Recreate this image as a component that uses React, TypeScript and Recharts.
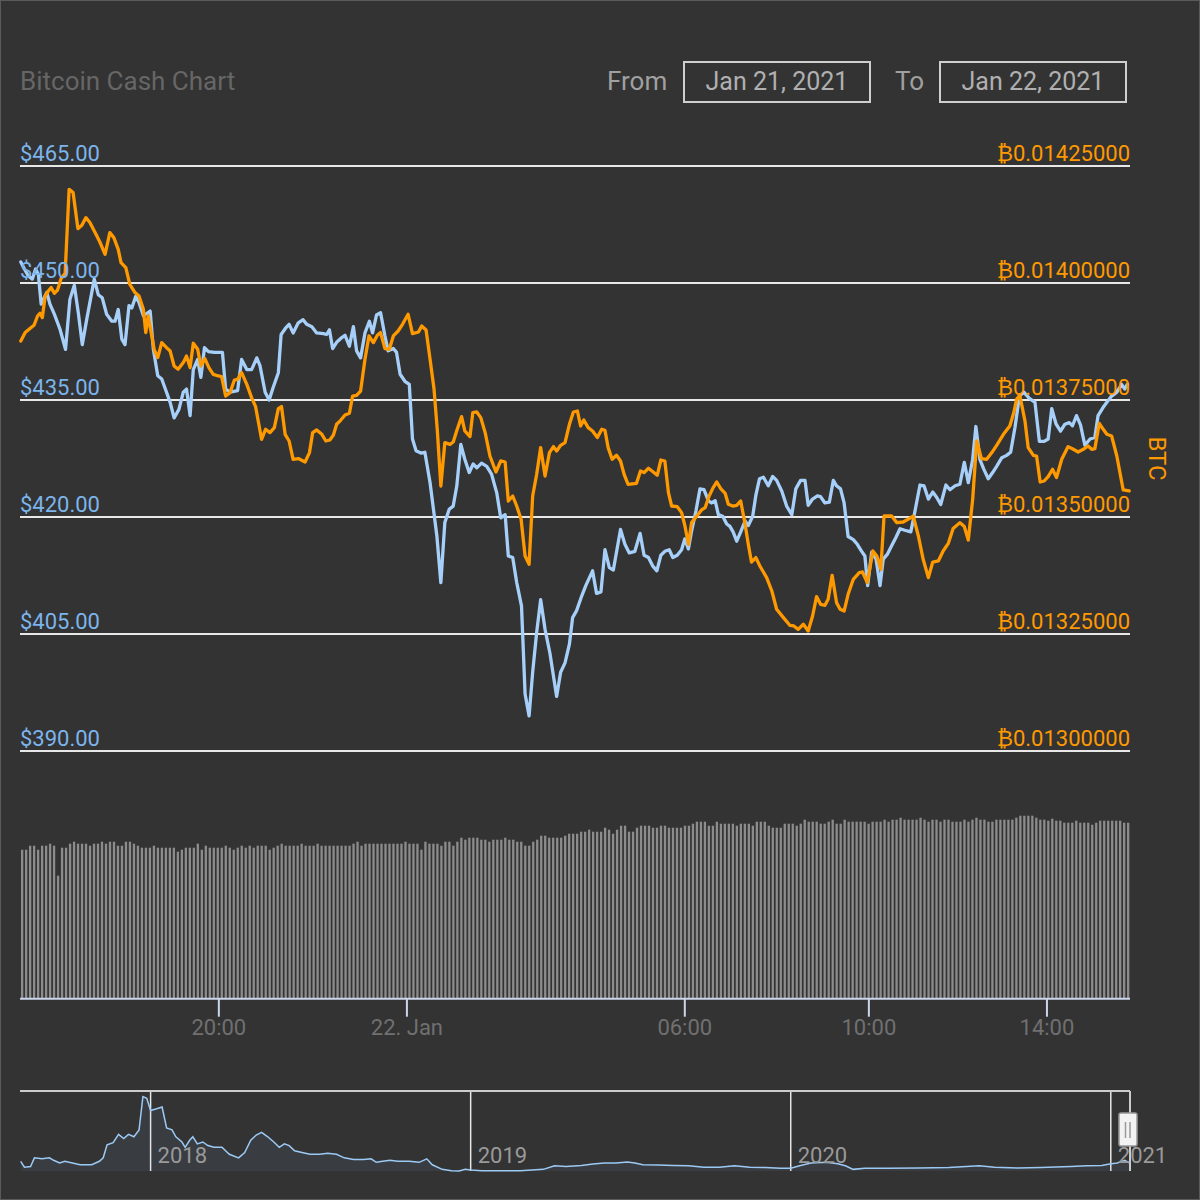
import React from "react";
import {
  ComposedChart, Line, XAxis, YAxis, CartesianGrid, BarChart, Bar,
  AreaChart, Area, ReferenceLine,
} from "recharts";

// price in USD, [5-min candle index, price]
const usdSeries: [number, number][] = [
  [-0.3, 452.7], [0.6, 451.8], [1.6, 450.9], [2.6, 450.5], [3.4, 451.8], [4.1, 451.1], [4.8, 447.3], [6.2, 448.8],
  [7.0, 447.3], [8.1, 446.0], [9.5, 444.1], [10.9, 441.5], [12.0, 447.9], [13.1, 449.7], [14.1, 446.2], [15.1, 442.1],
  [16.2, 445.3], [18.1, 450.5], [19.1, 448.5], [20.1, 448.1], [21.2, 446.0], [22.5, 445.1], [23.3, 445.1], [24.1, 446.6],
  [25.0, 442.8], [25.8, 442.1], [26.8, 447.1], [27.5, 446.8], [28.5, 448.3], [29.3, 447.5], [30.4, 445.8], [32.1, 446.4],
  [32.9, 441.5], [34.0, 438.1], [35.0, 437.7], [36.2, 436.0], [37.1, 434.7], [38.1, 432.7], [39.3, 433.8], [40.4, 436.0],
  [41.2, 436.4], [42.1, 433.0], [42.9, 438.9], [44.0, 440.2], [44.8, 437.9], [45.7, 441.7], [46.7, 441.2], [48.2, 441.1],
  [50.2, 441.1], [51.0, 436.4], [52.1, 436.0], [54.0, 436.2], [55.0, 440.2], [56.3, 438.9], [57.5, 438.9], [58.8, 440.4],
  [59.6, 439.4], [60.9, 436.0], [61.9, 435.0], [62.9, 436.6], [64.2, 438.5], [64.9, 443.4], [66.0, 444.2], [66.9, 444.7],
  [67.9, 443.6], [69.2, 444.9], [70.4, 445.3], [71.3, 444.7], [72.6, 444.4], [73.8, 443.6], [75.5, 443.5], [76.3, 443.4],
  [77.0, 444.0], [77.8, 441.6], [78.8, 442.4], [80.1, 443.0], [80.9, 443.3], [82.0, 441.9], [83.0, 444.4], [83.8, 441.3],
  [84.8, 440.4], [85.9, 443.6], [87.0, 445.1], [87.8, 443.6], [88.8, 445.9], [89.8, 446.2], [90.9, 443.2], [91.7, 441.3],
  [93.0, 441.6], [93.8, 441.1], [94.7, 438.3], [95.9, 437.4], [97.0, 437.0], [97.8, 430.0], [98.7, 428.5], [99.9, 428.2],
  [100.9, 428.3], [102.2, 424.4], [103.9, 417.6], [104.9, 411.6], [105.9, 419.3], [107.0, 421.0], [108.0, 421.4], [108.9, 424.0],
  [109.9, 429.3], [110.9, 427.4], [112.0, 425.7], [113.0, 426.8], [113.9, 426.3], [115.1, 426.9], [116.4, 426.5], [117.6, 425.5],
  [118.9, 423.1], [119.9, 419.9], [121.0, 420.3], [121.8, 415.0], [122.9, 414.8], [123.9, 411.6], [125.1, 408.6], [126.0, 397.3],
  [127.0, 394.5], [127.9, 400.1], [128.9, 405.2], [129.9, 409.4], [131.0, 405.6], [132.2, 402.6], [133.9, 397.0], [134.9, 400.1],
  [136.0, 401.3], [137.1, 403.7], [137.9, 407.1], [138.9, 408.0], [140.2, 409.9], [141.2, 411.2], [142.9, 413.1], [143.9, 410.2],
  [145.0, 410.4], [146.0, 415.8], [147.1, 413.5], [148.1, 413.2], [149.9, 418.4], [151.0, 416.5], [152.1, 415.4], [153.5, 415.6],
  [154.8, 417.9], [155.8, 415.1], [156.9, 414.8], [158.0, 413.7], [159.0, 413.1], [160.0, 415.1], [161.0, 415.6], [162.1, 415.8],
  [163.0, 414.8], [164.1, 415.1], [165.2, 415.8], [166.0, 417.2], [166.9, 415.9], [167.7, 418.2], [168.8, 420.8], [169.8, 423.6],
  [170.8, 423.5], [171.9, 422.1], [172.7, 421.8], [173.6, 422.1], [174.4, 420.3], [175.5, 420.1], [176.5, 419.1], [177.3, 418.8],
  [178.1, 418.1], [179.0, 416.9], [180.0, 418.1], [181.1, 419.5], [181.9, 418.9], [183.0, 420.1], [183.8, 422.8], [184.7, 424.9],
  [185.7, 425.1], [186.9, 424.0], [188.0, 425.2], [189.0, 424.7], [190.3, 423.3], [191.5, 421.4], [192.8, 420.3], [193.8, 423.6],
  [195.0, 424.7], [196.1, 424.7], [196.9, 421.5], [198.0, 422.3], [199.2, 422.7], [200.0, 422.6], [201.1, 421.8], [202.2, 421.9],
  [203.2, 424.7], [204.0, 424.0], [205.0, 423.6], [205.9, 421.8], [206.9, 417.5], [208.2, 417.1], [209.2, 416.5], [210.3, 415.6],
  [211.1, 415.0], [211.8, 411.2], [212.8, 415.5], [213.9, 414.6], [214.9, 411.2], [215.7, 414.6], [216.7, 415.2], [217.8, 416.3],
  [218.9, 417.4], [219.9, 418.5], [221.1, 418.3], [222.6, 418.1], [223.4, 420.1], [224.9, 424.1], [225.9, 424.0], [227.0, 422.3],
  [228.1, 423.2], [229.1, 422.5], [230.1, 421.6], [231.4, 424.1], [232.4, 423.5], [233.7, 424.0], [234.9, 424.2], [236.0, 427.0],
  [237.0, 424.4], [238.1, 427.4], [238.9, 431.6], [239.9, 427.4], [240.9, 426.1], [242.0, 424.9], [243.1, 425.7], [244.1, 426.5],
  [245.4, 427.6], [246.6, 427.9], [247.6, 428.3], [248.7, 431.5], [249.8, 435.5], [250.9, 436.0], [252.3, 435.2], [253.7, 434.7],
  [254.8, 429.7], [256.0, 429.7], [257.0, 430.0], [257.9, 433.9], [259.0, 431.9], [260.1, 431.0], [261.2, 431.9], [262.3, 432.1],
  [263.1, 431.7], [264.1, 433.0], [265.1, 431.8], [266.2, 429.2], [267.5, 430.0], [268.7, 430.2], [269.5, 433.0], [270.7, 434.0],
  [271.7, 434.7], [272.9, 435.5], [274.2, 436.0], [275.4, 437.0], [276.2, 436.4], [276.8, 437.0],
];

// price in BTC, [5-min candle index, price]
const btcSeries: [number, number][] = [
  [-0.3, 0.0138761], [0.8, 0.013894], [2.0, 0.0139026], [3.0, 0.0139096], [3.9, 0.0139295], [4.5, 0.0139353], [5.1, 0.0139261],
  [5.8, 0.0139722], [6.6, 0.0139829], [7.3, 0.0139902], [8.1, 0.013978], [8.9, 0.013985], [9.8, 0.0140094], [10.8, 0.0140207],
  [11.8, 0.0142002], [12.8, 0.0141932], [14.0, 0.0141162], [15.0, 0.0141233], [16.0, 0.0141397], [17.0, 0.0141291], [18.3, 0.0141077],
  [19.5, 0.0140876], [20.8, 0.0140613], [22.0, 0.0141077], [23.0, 0.014097], [24.1, 0.014072], [24.8, 0.0140436], [26.0, 0.0140329],
  [27.0, 0.0139972], [28.3, 0.0139795], [29.3, 0.0139722], [30.4, 0.0139438], [31.0, 0.013894], [31.6, 0.0139295], [33.1, 0.0138583],
  [34.0, 0.0138406], [35.0, 0.0138726], [36.2, 0.013862], [37.1, 0.0138547], [38.1, 0.0138226], [39.1, 0.0138156], [40.4, 0.0138299],
  [41.2, 0.013844], [42.1, 0.0138192], [42.9, 0.0138712], [44.0, 0.0138583], [44.8, 0.0138226], [45.8, 0.0138385], [46.8, 0.0138192],
  [47.9, 0.0138049], [49.2, 0.0138013], [50.0, 0.0138], [51.0, 0.0137585], [52.1, 0.0137658], [53.2, 0.0137927], [54.0, 0.0137942],
  [55.0, 0.0138085], [56.3, 0.0137835], [57.5, 0.0137551], [58.5, 0.0137359], [60.0, 0.013666], [61.0, 0.0136874], [62.1, 0.0136803],
  [63.2, 0.013691], [64.2, 0.0137316], [65.0, 0.0137359], [65.9, 0.0136767], [66.9, 0.0136624], [67.9, 0.0136233], [69.2, 0.0136248],
  [70.9, 0.0136175], [72.0, 0.0136376], [72.8, 0.0136803], [73.8, 0.0136859], [75.1, 0.0136767], [76.1, 0.0136624], [77.1, 0.0136645],
  [78.0, 0.0136752], [78.8, 0.0136981], [79.8, 0.0137066], [80.9, 0.0137179], [82.0, 0.0137216], [82.8, 0.0137585], [83.8, 0.01376],
  [84.8, 0.0137692], [85.9, 0.013837], [86.9, 0.0138868], [88.0, 0.0138726], [89.0, 0.0138882], [89.8, 0.013894], [90.9, 0.0138598],
  [92.0, 0.0138583], [93.0, 0.0138868], [94.2, 0.0138974], [95.3, 0.0139118], [96.7, 0.0139331], [97.8, 0.0138919], [99.3, 0.0138953],
  [100.1, 0.0139081], [101.2, 0.0138996], [102.2, 0.013837], [103.2, 0.0137729], [104.0, 0.0136874], [104.9, 0.0135662], [105.9, 0.013659],
  [107.2, 0.0136553], [108.0, 0.0136603], [109.0, 0.0136874], [110.1, 0.0137145], [110.9, 0.0136838], [112.2, 0.0136718], [112.9, 0.0137231],
  [113.9, 0.0137244], [114.9, 0.0137124], [116.0, 0.0136803], [117.2, 0.0136303], [118.7, 0.0135962], [119.9, 0.0136197], [121.0, 0.0136175],
  [121.8, 0.0135342], [122.9, 0.0135449], [123.9, 0.0135235], [125.0, 0.0134951], [126.0, 0.0134167], [127.0, 0.0133989], [127.9, 0.0135449],
  [128.9, 0.0135912], [129.9, 0.0136483], [131.0, 0.0135876], [132.1, 0.0136376], [133.1, 0.0136504], [133.9, 0.013641], [134.9, 0.0136532],
  [136.0, 0.013659], [137.1, 0.0136981], [138.1, 0.0137244], [139.1, 0.0137265], [139.9, 0.0136944], [140.7, 0.0137073], [141.8, 0.013691],
  [142.9, 0.0136838], [144.1, 0.0136697], [145.2, 0.0136874], [146.0, 0.0136853], [146.8, 0.0136483], [147.8, 0.0136233], [148.9, 0.0136318],
  [149.9, 0.0136197], [150.8, 0.0135912], [151.8, 0.0135699], [153.9, 0.013572], [154.9, 0.0135983], [155.8, 0.0135949], [156.9, 0.0136041],
  [158.1, 0.0135962], [159.1, 0.0135891], [160.0, 0.0136218], [161.0, 0.0136197], [161.9, 0.0135521], [162.7, 0.0135235], [164.1, 0.0135222],
  [165.2, 0.0135094], [166.0, 0.0134823], [166.9, 0.0134417], [167.7, 0.013488], [169.0, 0.0135021], [170.2, 0.013515], [171.1, 0.0135201],
  [172.1, 0.0135449], [173.1, 0.0135628], [174.0, 0.0135748], [175.0, 0.0135607], [176.1, 0.0135506], [176.9, 0.0135271], [178.0, 0.0135235],
  [179.0, 0.013525], [180.0, 0.0135342], [181.1, 0.0134844], [181.9, 0.0134417], [182.7, 0.0134038], [183.8, 0.0134132], [184.8, 0.0133953],
  [186.5, 0.0133705], [187.8, 0.0133419], [189.0, 0.0133028], [190.7, 0.013285], [192.3, 0.0132686], [193.3, 0.0132671], [194.4, 0.01326],
  [195.7, 0.0132707], [196.9, 0.0132564], [198.0, 0.0132885], [199.0, 0.0133299], [200.0, 0.0133135], [201.1, 0.0133113], [201.9, 0.0133241],
  [202.9, 0.0133754], [204.0, 0.0133171], [204.9, 0.0133028], [205.9, 0.0132991], [206.9, 0.0133348], [208.2, 0.0133669], [209.7, 0.0133812],
  [210.5, 0.0133825], [211.7, 0.0133598], [213.1, 0.0134274], [214.1, 0.0134167], [215.1, 0.0133882], [215.9, 0.0135021], [217.8, 0.0135021],
  [219.1, 0.013488], [220.7, 0.0134893], [222.2, 0.0134966], [223.2, 0.0135021], [224.5, 0.0134594], [225.7, 0.0134096], [227.0, 0.0133705],
  [228.1, 0.0134038], [229.5, 0.013406], [230.7, 0.0134274], [232.0, 0.0134438], [233.2, 0.0134752], [234.9, 0.013488], [236.0, 0.0134795],
  [237.0, 0.0134509], [238.1, 0.0135378], [239.1, 0.0136624], [240.3, 0.0136248], [241.6, 0.0136233], [242.9, 0.0136376], [244.1, 0.0136532],
  [245.8, 0.0136767], [247.4, 0.0136944], [248.4, 0.0137231], [249.1, 0.0137515], [249.9, 0.01376], [251.2, 0.0137051], [252.0, 0.0136483],
  [253.3, 0.0136318], [254.1, 0.0136303], [255.0, 0.0135748], [256.0, 0.0135769], [257.0, 0.0135863], [258.1, 0.0136019], [259.1, 0.0135842],
  [260.4, 0.0136233], [262.0, 0.0136504], [263.3, 0.0136447], [264.5, 0.0136389], [265.8, 0.0136447], [267.0, 0.0136517], [267.9, 0.0136447],
  [268.7, 0.0136461], [269.8, 0.0137002], [270.8, 0.0136874], [271.7, 0.0136767], [272.9, 0.0136731], [274.2, 0.0136303], [275.8, 0.0135577],
  [277.3, 0.0135556],
];

// volume per 5-min candle (relative)
const volumeValues: number[] = [
  149, 149, 153, 153, 149, 153, 153, 155, 153, 123, 151, 151, 155, 157, 155, 155, 155, 153, 155, 155,
  157, 155, 157, 157, 153, 153, 157, 157, 155, 153, 151, 151, 151, 153, 151, 151, 151, 151, 151, 147,
  149, 151, 151, 151, 155, 149, 153, 151, 151, 151, 151, 153, 151, 149, 151, 153, 151, 153, 151, 153,
  153, 153, 149, 151, 153, 155, 153, 153, 153, 153, 155, 153, 153, 153, 155, 153, 153, 153, 153, 153,
  153, 153, 153, 155, 157, 153, 155, 155, 155, 155, 155, 155, 155, 155, 155, 155, 157, 155, 155, 155,
  149, 157, 155, 155, 155, 153, 157, 157, 153, 157, 161, 159, 161, 161, 161, 159, 159, 157, 159, 159,
  159, 161, 159, 159, 157, 157, 153, 153, 157,
  159, 163, 163, 161, 161, 161, 161, 163, 165, 165, 165, 167, 167, 169, 167, 167, 167, 171, 169, 165,
  169, 173, 173, 167, 167, 171, 173, 173, 173, 171, 171, 173, 173, 171, 171, 171, 171, 173, 173, 175,
  177, 177, 177, 173, 173, 177, 175, 175, 175, 175, 173, 175, 175, 175, 173, 177, 177, 177, 173, 171,
  171, 171, 175, 175, 175, 173, 175, 179, 177, 177, 177, 175, 175, 177, 179, 175, 175, 179, 177, 177,
  177, 177, 177, 175, 177, 177, 177, 179, 177, 179, 179, 181, 179, 179, 179, 179, 181, 179, 177, 179,
  179, 177, 179, 179, 177, 177, 177, 179, 177, 179, 181, 179, 179, 177, 177, 179, 179, 179, 179, 179,
  181, 183, 183, 183, 183, 181, 179, 179,
  178, 180, 178, 178, 176, 176, 176, 178, 176, 176, 176, 174, 176, 178, 178, 178, 178, 178, 178, 176, 176,
];

// navigator: full history, [year, USD]
const navSeries: [number, number][] = [
  [2017.594, 519], [2017.606, 251], [2017.625, 283], [2017.637, 676], [2017.661, 630], [2017.684, 676], [2017.697, 565],
  [2017.716, 440], [2017.732, 519], [2017.756, 440], [2017.78, 362], [2017.816, 362], [2017.84, 519], [2017.852, 676],
  [2017.864, 1263], [2017.883, 1360], [2017.9, 1739], [2017.916, 1549], [2017.931, 1739], [2017.948, 1628], [2017.964, 1942],
  [2017.976, 3448], [2017.988, 3369], [2018.0, 2815], [2018.019, 2894], [2018.036, 2972], [2018.05, 2025], [2018.067, 1942],
  [2018.079, 1628], [2018.098, 1392], [2018.108, 1152], [2018.122, 1471], [2018.132, 1628], [2018.146, 1309], [2018.163, 1392],
  [2018.179, 1230], [2018.198, 1152], [2018.223, 1152], [2018.246, 838], [2018.275, 676], [2018.294, 916], [2018.313, 1471],
  [2018.33, 1706], [2018.347, 1831], [2018.366, 1628], [2018.385, 1392], [2018.402, 1152], [2018.418, 1309], [2018.433, 1230],
  [2018.45, 995], [2018.473, 916], [2018.498, 838], [2018.528, 838], [2018.553, 884], [2018.581, 838], [2018.605, 676],
  [2018.634, 597], [2018.665, 597], [2018.689, 630], [2018.705, 473], [2018.725, 519], [2018.748, 565], [2018.772, 519],
  [2018.808, 519], [2018.839, 473], [2018.863, 630], [2018.88, 362], [2018.911, 154], [2018.94, 94], [2018.964, 80],
  [2018.983, 154], [2019.0, 126], [2019.035, 94], [2019.083, 94], [2019.155, 94], [2019.227, 154], [2019.262, 316],
  [2019.298, 283], [2019.346, 330], [2019.382, 394], [2019.418, 440], [2019.454, 440], [2019.49, 487], [2019.513, 440],
  [2019.538, 362], [2019.585, 348], [2019.633, 330], [2019.681, 316], [2019.729, 251], [2019.777, 251], [2019.824, 316],
  [2019.872, 251], [2019.92, 237], [2019.968, 205], [2020.0, 205], [2020.028, 316], [2020.063, 440], [2020.111, 473],
  [2020.147, 408], [2020.171, 316], [2020.195, 154], [2020.231, 205], [2020.302, 205], [2020.398, 219], [2020.494, 237],
  [2020.589, 316], [2020.637, 251], [2020.709, 219], [2020.781, 237], [2020.876, 283], [2020.924, 316], [2020.972, 330],
  [2020.996, 394], [2021.02, 440], [2021.044, 565], [2021.058, 450],
];

const usdTicks = [390, 405, 420, 435, 450, 465];
const btcTicks = [0.013, 0.01325, 0.0135, 0.01375, 0.014, 0.01425];
const timeTicks = [49.3, 96.4, 166.0, 212.1, 256.7];
const timeLabels = ["20:00", "22. Jan", "06:00", "10:00", "14:00"];
const yearTicks = [2018, 2019, 2020, 2021];

const usdData = usdSeries.map(([idx, usd]) => ({ idx, usd }));
const btcData = btcSeries.map(([idx, btc]) => ({ idx, btc }));
const volumeData = volumeValues.map((vol, idx) => ({ idx, vol }));
const navData = navSeries.map(([year, price]) => ({ year, price }));

const PLOT_LEFT = 20;
const PLOT_RIGHT = 1130;
const BLUE = "#a6d0fa";
const ORANGE = "#ff9900";

const UsdTick = (props: any) => (
  <text x={PLOT_LEFT} y={props.y - 5} fill="#7cb5ec" fontSize={22}>
    {"$" + Number(props.payload.value).toFixed(2)}
  </text>
);

const BtcTick = (props: any) => (
  <text x={PLOT_RIGHT} y={props.y - 5} fill={ORANGE} fontSize={22} textAnchor="end">
    {"\u20BF" + Number(props.payload.value).toFixed(8)}
  </text>
);

const NavTick = (props: any) => (
  <text x={props.x + 7} y={props.y - 8} fill="#9a9a9a" fontSize={22}>
    {props.payload.value}
  </text>
);

const NavHandle = (props: any) => {
  const vb = props.viewBox;
  if (!vb) return null;
  const cx = vb.x - 2;
  const top = vb.y + 22;
  return (
    <g>
      <rect x={cx - 9} y={top} width={18} height={33} rx={2} fill="#f2f2f2" stroke="#999999" strokeWidth={1.5} />
      <line x1={cx - 2.5} x2={cx - 2.5} y1={top + 9} y2={top + 25} stroke="#999999" strokeWidth={1.5} />
      <line x1={cx + 2} x2={cx + 2} y1={top + 9} y2={top + 25} stroke="#999999" strokeWidth={1.5} />
    </g>
  );
};

const headText: React.CSSProperties = {
  position: "absolute", top: 66, fontSize: 26, lineHeight: "30px", color: "#a0a0a0",
};

const dateBox: React.CSSProperties = {
  position: "absolute", top: 61, width: 188, height: 42, boxSizing: "border-box",
  border: "2px solid #cfcfcf", color: "#b0b0b0", fontSize: 25, lineHeight: "38px", textAlign: "center",
};

export default function App() {
  return (
    <div style={{
      position: "absolute", left: 0, top: 0, width: 1200, height: 1200, background: "#333333",
      fontFamily: "Roboto, sans-serif", overflow: "hidden",
    }}>
      <div style={{ ...headText, left: 20, color: "#666666" }}>Bitcoin Cash Chart</div>
      <div style={{ ...headText, left: 607 }}>From</div>
      <div style={{ ...dateBox, left: 683 }}>Jan 21, 2021</div>
      <div style={{ ...headText, left: 895 }}>To</div>
      <div style={{ ...dateBox, left: 939 }}>Jan 22, 2021</div>

      <div style={{ position: "absolute", left: 0, top: 0 }}>
        <ComposedChart width={1200} height={770} margin={{ top: 166, right: 10, bottom: 19, left: 19 }}>
          <CartesianGrid yAxisId="usd" vertical={false} stroke="#e8e8e8" strokeWidth={2} />
          <XAxis type="number" dataKey="idx" domain={[-0.5, 277.5]} hide />
          <YAxis
            yAxisId="usd" domain={[390, 465]} ticks={usdTicks} interval={0} width={1}
            axisLine={false} tickLine={false} tick={<UsdTick />}
          />
          <YAxis
            yAxisId="btc" orientation="right" domain={[0.013, 0.01425]} ticks={btcTicks} interval={0} width={60}
            axisLine={false} tickLine={false} tick={<BtcTick />}
            label={{ value: "BTC", angle: 90, position: "center", fill: ORANGE, fontSize: 24, dx: -2 }}
          />
          <Line
            yAxisId="usd" data={usdData} dataKey="usd" type="linear" stroke={BLUE} strokeWidth={3.3}
            strokeLinejoin="round" strokeLinecap="round" dot={false} isAnimationActive={false}
          />
          <Line
            yAxisId="btc" data={btcData} dataKey="btc" type="linear" stroke={ORANGE} strokeWidth={3.3}
            strokeLinejoin="round" strokeLinecap="round" dot={false} isAnimationActive={false}
          />
        </ComposedChart>
      </div>

      <div style={{ position: "absolute", left: 0, top: 780 }}>
        <BarChart width={1200} height={280} data={volumeData} margin={{ top: 18.7, right: 70, bottom: 11.3, left: 20 }}>
          <XAxis
            type="number" dataKey="idx" domain={[-0.5, 277.5]} ticks={timeTicks} interval={0} height={50}
            tickFormatter={(v: number) => timeLabels[timeTicks.indexOf(v)]}
            axisLine={{ stroke: "#ccd6eb", strokeWidth: 2 }} tickLine={{ stroke: "#ccd6eb", strokeWidth: 2 }}
            tickSize={18} tickMargin={3} tick={{ fill: "#707070", fontSize: 22 }}
          />
          <YAxis hide domain={[0, 200]} />
          <Bar dataKey="vol" fill="#8c8c8c" barSize={2.3} isAnimationActive={false} />
        </BarChart>
      </div>

      <div style={{ position: "absolute", left: 0, top: 1080 }}>
        <AreaChart width={1200} height={120} data={navData} margin={{ top: 11, right: 70, bottom: 28, left: 20 }}>
          <CartesianGrid horizontal={false} syncWithTicks stroke="#e6e6e6" strokeWidth={1.5} />
          <XAxis
            type="number" dataKey="year" domain={[2017.592, 2021.06]} ticks={yearTicks} interval={0} height={1}
            axisLine={false} tickLine={false} tickSize={0} tickMargin={0} tick={<NavTick />}
          />
          <YAxis hide domain={[80, 3700]} />
          <Area
            dataKey="price" type="linear" stroke="#9ccaf5" strokeWidth={1.5} fill="#7cb5ec" fillOpacity={0.08}
            isAnimationActive={false}
          />
          <ReferenceLine y={3700} stroke="#cccccc" strokeWidth={2} ifOverflow="visible" />
          <ReferenceLine
            x={2021.06} stroke="#cccccc" strokeWidth={2} ifOverflow="visible"
            label={(p: any) => <NavHandle {...p} />}
          />
        </AreaChart>
      </div>

      <div style={{
        position: "absolute", left: 0, top: 0, width: 1200, height: 1200, boxSizing: "border-box",
        border: "1px solid #5a5a5a", pointerEvents: "none",
      }} />
    </div>
  );
}
